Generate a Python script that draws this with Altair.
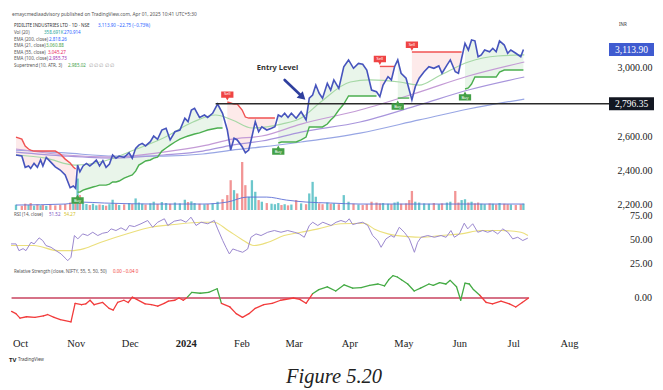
import altair as alt
import pandas as pd
import numpy as np

# ---------------- data ----------------
close_days = [-5.0,-1.7,0.2,2.1,3.3,5.2,7.1,8.9,10.2,12.1,
14.4,17.2,20.0,22.8,25.6,27.4,28.7,29.8,31.1,32.9,
34.8,36.7,38.5,40.4,42.2,44.1,45.9,47.8,49.6,51.5,
53.3,56.1,58.9,60.7,62.6,64.4,66.3,68.2,70.9,72.8,
75.0,77.4,79.8,82.1,84.8,87.6,90.4,92.2,94.1,95.9,
98.7,101.5,103.3,106.1,108.9,111.7,114.4,116.3,118.2,120.0,
122.8,124.6,126.5,128.3,130.2,132.1,133.9,136.7,139.4,141.3,
143.2,145.0,146.8,148.7,150.6,153.3,156.1,158.9,160.7,162.6,
164.4,166.3,168.2,170.9,172.8,174.6,177.4,180.2,182.9,185.7,
188.5,190.9,193.2,195.9,198.7,200.6,202.4,205.2,207.1,208.9,
210.7,212.6,215.4,217.2,218.7,220.6,222.8,225.6,228.3,231.1,
233.9,235.7,238.5,240.4,243.2,245.0,246.8,248.7,250.6,252.4,
254.3,256.1,257.9,259.8,262.6,264.4,266.3,268.2,270.9,272.8,
274.6,277.4,280.2,281.7]

close_px = [2497,2491,2425,2433,2419,2448,2425,2468,2433,2483,
2458,2428,2409,2380,2306,2316,2302,2438,2399,2433,
2448,2433,2448,2468,2433,2464,2425,2444,2497,2478,
2491,2483,2510,2478,2536,2555,2565,2550,2575,2608,
2589,2643,2653,2585,2633,2643,2712,2692,2760,2770,
2717,2731,2717,2741,2795,2741,2643,2526,2595,2585,
2545,2510,2526,2604,2692,2633,2662,2643,2653,2662,
2731,2721,2741,2717,2741,2712,2750,2702,2829,2848,
2906,2858,2829,2916,2877,2936,2887,3013,3053,3004,
3033,3028,2994,2877,2867,2838,2906,2955,2936,3013,
3053,2975,2946,2877,2819,2896,2946,2984,3013,3004,
3018,2975,3023,3053,2984,2975,3063,3150,3111,3170,
3165,3072,3082,3111,3101,3121,3101,3164,3140,3092,
3111,3092,3072,3113.9]

supertrend = ([2602,2590,2549,2532,2526,2520,2520,2520,2520,2520,2520,2520,2503,2473,2450,2427,2415]
 + [2280,2280,2292,2298,2304,2310,2315,2321,2321,2321,2327,2339,2339,2345,2362,2374,2380,2403,2438,
    2450,2462,2468,2479,2485,2520,2538,2555,2573,2590,2602,2608,2614,2620,2626,2637,2643,2649,2655,2655]
 + [2807,2801,2795,2795,2760,2719,2713,2713,2713,2713,2713,2713,2713,2713]
 + [2567,2573,2573,2573,2573,2573,2585,2602,2661,2661,2661,2661,2661,2678,2702,2719,2760,2795,
    2842,2842,2842,2842,2842,2842,2842]
 + [3015,3015,3015,3015,3015]
 + [2830,2830,2830,2830]
 + [3099,3099,3099,3099,3099,3099,3099,3099,3099,3099,3099,3099,3099]
 + [2883,2889,2912,2953,2953,2953,2953,2953,2953,2953,2982,2994,2994,2994,2994,2994,2994])

volume_k = [320,250,380,300,420,260,340,280,300,250,
330,280,310,360,450,400,520,1900,900,420,
360,300,380,280,330,300,260,350,620,380,
300,340,420,360,700,450,380,330,400,500,
360,480,420,380,450,400,620,480,520,420,
380,340,360,400,500,650,900,1800,1200,1000,
2900,1500,800,1800,1100,600,500,420,380,350,
420,300,350,280,330,600,400,350,1000,1700,
800,400,350,450,380,400,350,900,500,380,
330,300,350,500,450,400,420,380,350,450,
500,380,400,600,1150,500,450,400,380,420,
350,400,450,500,1150,450,600,650,450,500,
400,450,380,350,400,380,330,420,380,350,
330,300,350,380]

vol_ma_days = [-5.0,22.8,31.1,45.0,72.8,100.6,114.4,125.6,136.7,147.8,158.9,172.8,189.4,211.7,239.4,282.2]
vol_ma_k = [300,360,480,420,360,360,480,780,780,600,480,420,360,360,360,360]

ema_slow_days = [-5.0,22.8,50.6,78.3,100.6,117.2,133.9,156.1,189.4,222.8,250.6,282.2]
ema55 = [2532,2497,2485,2514,2550,2590,2608,2678,2760,2865,2959,3041]
ema100 = [2514,2491,2479,2497,2520,2555,2579,2631,2690,2790,2877,2953]
ema200 = [2526,2509,2491,2491,2503,2526,2544,2573,2625,2702,2766,2824]

ema21_days = [-5.0,11.7,28.3,45.0,61.7,78.3,95.0,107.8,117.2,128.3,145.0,156.1,167.2,183.9,195.0,
              211.7,222.8,233.9,250.6,267.2,282.2]
ema21 = [2497,2479,2438,2462,2526,2596,2690,2731,2702,2655,2678,2713,2807,2924,2936,
         2924,2906,2959,3041,3076,3082]

rsi_days = [-5.0,-2.2,-0.6,1.7,3.3,6.1,7.8,10.6,12.6,14.4,
17.2,20.0,22.8,25.6,26.5,28.3,30.2,32.1,34.8,37.6,
40.4,43.2,45.9,48.7,50.6,53.3,56.1,58.9,60.7,63.5,
67.2,70.9,73.7,76.5,80.2,82.1,85.7,89.4,92.2,95.0,
97.8,100.6,104.3,107.9,109.8,112.6,114.4,116.3,118.2,120.9,
123.7,126.5,128.3,131.1,133.9,137.6,141.3,145.0,148.7,152.4,
155.2,157.9,160.7,162.6,165.4,168.2,172.8,175.6,178.3,181.1,
182.9,184.8,187.6,190.4,193.2,195.9,198.7,200.6,203.3,206.1,
207.9,210.7,213.5,216.3,219.1,220.9,222.8,226.5,230.2,233.9,
236.7,239.4,241.3,244.1,246.8,248.7,251.5,254.3,257.1,259.8,
262.6,265.4,268.2,271.0,273.7,276.5,279.3,282.1]
rsi_vals = [45.5,45.5,38.5,40.6,38.5,47.2,45.5,51.8,49.0,43.8,
42.0,38.5,35.1,29.9,28.1,31.6,54.2,50.7,55.9,54.2,
57.6,54.2,56.6,57.6,61.1,59.4,62.2,59.4,64.6,63.5,
66.4,69.8,62.8,68.0,71.6,64.6,69.1,70.5,68.0,73.2,
64.6,68.0,66.4,69.8,61.1,49.0,42.0,35.1,40.3,38.5,
36.8,40.3,52.4,55.9,54.2,57.6,59.4,57.6,59.4,57.6,
55.9,52.4,64.6,68.0,64.6,68.0,64.6,68.0,69.8,68.0,
71.6,65.6,67.0,68.0,64.6,54.2,49.0,42.0,50.7,54.2,
52.4,62.8,57.6,50.7,36.8,47.2,52.4,54.2,52.4,54.2,
52.4,59.4,52.4,55.9,67.0,61.1,66.4,57.6,59.4,57.6,
59.4,55.9,61.1,57.6,50.7,52.4,49.0,51.52]

rsi_ma_days = [-5.0,7.8,21.1,28.3,35.6,45.0,60.0,72.8,85.6,100.6,107.8,115.6,122.8,130.0,137.8,
               146.7,156.1,165.6,178.3,191.1,196.7,204.4,215.6,222.8,233.9,245.0,256.1,267.2,278.3,282.2]
rsi_ma_vals = [43.8,43.8,38.5,38.5,40.6,47.2,56.3,62.8,65.6,68.0,68.0,59.4,50.7,43.8,47.2,
               54.2,57.6,61.1,66.4,67.0,61.1,55.9,53.1,52.4,54.2,55.9,59.4,59.4,57.6,54.3]

rs_days = [-4.7,-2.3,0.0,3.6,8.3,13.0,15.3,18.9,22.4,28.3,
30.6,34.2,36.5,38.9,41.2,45.9,49.5,51.8,54.2,57.7,
60.1,62.4,64.8,69.5,73.0,76.5,80.1,82.4,86.0,88.3,
90.7,93.0,95.4,100.1,104.8,109.5,111.9,116.6,120.1,123.6,
127.2,130.7,135.4,140.1,144.8,151.9,155.4,158.9,162.5,166.0,
170.7,175.4,180.1,184.8,189.5,194.2,198.9,202.5,204.8,207.2,
209.6,211.9,215.4,219.0,222.5,227.2,229.6,233.1,236.6,239.0,
242.5,244.8,247.2,249.6,251.9,255.4,259.0,262.5,267.2,271.9,
275.4,279.0,282.5]
rs_vals = [-0.48,-0.56,-0.72,-0.67,-0.69,-0.64,-0.59,-0.69,-0.77,-0.85,
-0.19,-0.24,-0.21,-0.08,-0.24,-0.16,-0.37,-0.43,-0.16,-0.08,
-0.16,0.03,-0.05,-0.21,-0.24,-0.29,-0.19,-0.11,-0.08,0.00,
-0.08,0.03,0.20,0.17,0.20,0.33,-0.19,-0.32,-0.56,-0.69,
-0.56,-0.37,-0.24,-0.19,-0.08,0.00,-0.05,-0.19,0.15,0.30,
0.40,0.25,0.47,0.35,0.37,0.45,0.50,0.43,0.65,0.80,
0.75,0.65,0.50,0.25,0.35,0.50,0.45,0.55,0.50,0.63,
0.40,-0.08,0.53,0.50,0.30,0.10,-0.16,-0.21,-0.11,-0.21,
-0.32,-0.16,0.00]

price_ticks = [2200, 2400, 2600, 3000]
rsi_ticks = [25, 50, 75]
rs_ticks = [0.0]
last_close = 3113.90
entry_level = 2796.35
entry_start_day = 107.8
arrow_days = [146.8, 156.9]
arrow_price = [2936, 2836]
entry_label_day = 142.8
entry_label_price = 3006

# ---------------- layout / style ----------------
W = 597
H_P, H_R, H_S = 202, 58, 64
AXF = "Liberation Serif"
AXS = 10
TXF = "Noto Sans"
GREEN = "#4caf50"; RED = "#f05252"
CLOSE_C = "#4654bd"
TEAL = "#6cc7cc"; PINK = "#f29595"

T0 = pd.Timestamp("2023-10-01")
def to_dates(days):
    return [T0 + pd.Timedelta(days=float(d)) for d in days]

xscale = alt.Scale(domain=[alt.DateTime(year=2023, month=9, date=24, hours=21),
                           alt.DateTime(year=2024, month=8, date=21, hours=13)])
X = alt.X("date:T", scale=xscale, axis=None, title=None)

dummy = pd.DataFrame({"k": [0]})
def label(text, x, y, color="#555", size=4.5, weight="normal", font=TXF, align="left", **kw):
    return alt.Chart(dummy).mark_text(text=text, align=align, baseline="middle", fontSize=size,
                                      fontWeight=weight, color=color, font=font, **kw).encode(
        x=alt.value(x), y=alt.value(y))

def right_axis(values, fmt, offset=0):
    return alt.Axis(orient="right", values=values, format=fmt, labelAlign="right", labelPadding=46,
                    ticks=False, tickSize=0, domain=False, grid=False, labelFont=AXF, labelFontSize=AXS,
                    labelColor="#222", labelBaseline="middle", labelOverlap=False, labelBound=False,
                    labelOffset=offset)

# ---------------- price panel ----------------
pdf = pd.DataFrame({"date": to_dates(close_days), "close": close_px, "st": supertrend, "vol": volume_k})
pdf["trend"] = np.where(pdf["close"] >= pdf["st"], 1, -1)
pdf["seg"] = (pdf["trend"] != pdf["trend"].shift()).cumsum()
pdf["st_col"] = np.where(pdf["trend"] == 1, GREEN, RED)
pdf["vol_col"] = np.where(pdf["close"].diff().fillna(1) >= 0, TEAL, PINK)
flip = (pdf["trend"] != pdf["trend"].shift()) & (pdf.index > 0)
buys = pdf[flip & (pdf["trend"] == 1)]
sells = pdf[flip & (pdf["trend"] == -1)]

p_scale = alt.Scale(domain=[2175.4, 3356.7], nice=False, zero=False)
p_axis = right_axis(price_ticks, ",.2f", offset=-1)
def PY(f):
    return alt.Y(f, scale=p_scale, axis=p_axis, title=None)

base = alt.Chart(pdf)
fill = base.mark_area(opacity=0.12).encode(x=X, y=PY("close:Q"), y2="st:Q",
                                            color=alt.Color("st_col:N", scale=None), detail="seg:N")

ema_df = pd.concat([
    pd.DataFrame({"date": to_dates(ema_slow_days), "v": ema200, "name": "e200", "col": "#98a6e4"}),
    pd.DataFrame({"date": to_dates(ema_slow_days), "v": ema100, "name": "e100", "col": "#a895dc"}),
    pd.DataFrame({"date": to_dates(ema_slow_days), "v": ema55, "name": "e55", "col": "#c49bd6"}),
    pd.DataFrame({"date": to_dates(ema21_days), "v": ema21, "name": "e21", "col": "#a6d8a6"}),
])
emas = alt.Chart(ema_df).mark_line(strokeWidth=1.2, interpolate="monotone").encode(
    x=X, y=PY("v:Q"), detail="name:N", color=alt.Color("col:N", scale=None))

st_line = base.mark_line(strokeWidth=1.4).encode(x=X, y=PY("st:Q"), detail="seg:N",
                                                 color=alt.Color("st_col:N", scale=None))
close_line = base.mark_line(strokeWidth=1.6, color=CLOSE_C).encode(x=X, y=PY("close:Q"))

entry_df = pd.DataFrame({"date": to_dates([entry_start_day]), "lvl": [entry_level]})
entry_rule = alt.Chart(entry_df).mark_rule(color="#2a2a2a", strokeWidth=1.6).encode(
    x=X, x2=alt.value(W + 3), y=PY("lvl:Q"))

BUY_PATH = "M-1,-0.3L-0.25,-0.3L0,-0.75L0.25,-0.3L1,-0.3L1,0.75L-1,0.75Z"
SELL_PATH = "M-1,-0.75L1,-0.75L1,0.3L0.25,0.3L0,0.75L-0.25,0.3L-1,0.3Z"
buy_box = alt.Chart(buys).mark_point(shape=BUY_PATH, filled=True, size=150, opacity=1, color="#43a047",
                                     yOffset=7).encode(x=X, y=PY("st:Q"))
buy_txt = alt.Chart(buys).mark_text(text="Buy", fontSize=4, color="white", font=TXF, yOffset=8.5).encode(
    x=X, y=PY("st:Q"))
sell_box = alt.Chart(sells).mark_point(shape=SELL_PATH, filled=True, size=150, opacity=1, color="#ef4444",
                                       yOffset=-6).encode(x=X, y=PY("st:Q"))
sell_txt = alt.Chart(sells).mark_text(text="Sell", fontSize=4, color="white", font=TXF, yOffset=-7.5).encode(
    x=X, y=PY("st:Q"))

arrow_df = pd.DataFrame({"date": to_dates(arrow_days), "p": arrow_price})
ARROW_C = "#2f3f9e"
arrow_shaft = alt.Chart(arrow_df).mark_line(strokeWidth=2.6, color=ARROW_C, strokeCap="round").encode(
    x=X, y=PY("p:Q"))
arrow_head = alt.Chart(arrow_df.tail(1)).mark_point(shape="triangle-up", filled=True, size=80, angle=133,
                                                    opacity=1, color=ARROW_C).encode(x=X, y=PY("p:Q"))
elab_df = pd.DataFrame({"date": to_dates([entry_label_day]), "p": [entry_label_price]})
entry_txt = alt.Chart(elab_df).mark_text(text="Entry Level", fontSize=7.5, fontWeight="bold", color="#333",
                                         font=TXF).encode(x=X, y=PY("p:Q"))

box_df = pd.DataFrame({"lvl": [last_close, entry_level], "txt": ["3,113.90", "2,796.35"],
                       "col": ["#3f5bd0", "#131722"]})
boxes = alt.Chart(box_df).mark_rect(yOffset=-6.5, y2Offset=6.5).encode(
    x=alt.value(W + 3), x2=alt.value(W + 48), y=PY("lvl:Q"), y2="lvl:Q", color=alt.Color("col:N", scale=None))
box_txt = alt.Chart(box_df).mark_text(color="white", fontSize=9.5, font=AXF).encode(
    x=alt.value(W + 25.5), y=PY("lvl:Q"), text="txt:N")

BLUE_T = "#2962ff"
header = [
    label("emaycmediaadvisory published on TradingView.com, Apr 01, 2025 10:41 UTC+5:30", 3, 7, "#555", 4.8),
    label("PIDILITE INDUSTRIES LTD · 1D · NSE", 5, 17.5, "#333"),
    label("3,113.90  −22.75 (−0.73%)", 89, 17.5, BLUE_T),
    label("Vol (20)", 5, 25, "#555"), label("358.691K", 35, 25, "#26a69a"), label("270.914", 55, 25, BLUE_T),
    label("EMA (200, close)", 5, 31.5), label("2,818.26", 40, 31.5, BLUE_T),
    label("EMA (21, close)", 5, 38), label("3,060.88", 37, 38, "#43a047"),
    label("EMA (55, close)", 5, 44.5), label("3,045.27", 39, 44.5, "#e91e63"),
    label("EMA (100, close)", 5, 51), label("2,955.73", 40, 51, "#9c27b0"),
    label("Supertrend (10, ATR, 3)", 5, 57.5), label("2,985.02", 59, 57.5, "#43a047"),
    label("∅  ∅  ∅  ∅  ∅", 80, 57.5, "#999"),
    label("INR", W + 13, 17, "#333", 4.5),
]

vscale = alt.Scale(domain=[0, 12200], nice=False)
vol_bars = base.mark_bar(width=2.3).encode(x=X, y=alt.Y("vol:Q", scale=vscale, axis=None),
                                           color=alt.Color("vol_col:N", scale=None))
vma_df = pd.DataFrame({"date": to_dates(vol_ma_days), "v": vol_ma_k})
vol_ma = alt.Chart(vma_df).mark_line(color="#5d6fd6", strokeWidth=0.9, interpolate="monotone").encode(
    x=X, y=alt.Y("v:Q", scale=vscale, axis=None))

vol_layer = alt.layer(vol_bars, vol_ma)
price_layer = alt.layer(fill, emas, st_line, close_line, entry_rule, buy_box, buy_txt, sell_box, sell_txt,
                        arrow_shaft, arrow_head, entry_txt, boxes, box_txt, *header)
price_panel = alt.layer(vol_layer, price_layer).resolve_scale(y="independent").properties(width=W, height=H_P)

# ---------------- RSI panel ----------------
r_scale = alt.Scale(domain=[20.5, 80.7], nice=False, zero=False)
r_axis = right_axis(rsi_ticks, ".2f")
rdf = pd.DataFrame({"date": to_dates(rsi_days), "v": rsi_vals})
rmadf = pd.DataFrame({"date": to_dates(rsi_ma_days), "v": rsi_ma_vals})
rsi_ma_line = alt.Chart(rmadf).mark_line(color="#ebdf7c", strokeWidth=1.1, interpolate="monotone").encode(
    x=X, y=alt.Y("v:Q", scale=r_scale, axis=r_axis, title=None))
rsi_line = alt.Chart(rdf).mark_line(color="#9b88cf", strokeWidth=1.0).encode(
    x=X, y=alt.Y("v:Q", scale=r_scale, axis=r_axis, title=None))
rsi_panel = alt.layer(
    rsi_ma_line, rsi_line,
    label("RSI (14, close)", 5, 5, "#555"), label("51.52", 40, 5, "#7e57c2"), label("54.27", 55, 5, "#d4c22a"),
).properties(width=W, height=H_R)

# ---------------- Relative strength panel ----------------
K = 28.0
s_scale = alt.Scale(domain=[-34 / K, 30 / K], nice=False, zero=False)
month_ticks = ([alt.DateTime(year=2023, month=m, date=1) for m in (10, 11, 12)] +
               [alt.DateTime(year=2024, month=m, date=1) for m in range(1, 9)])
x_axis = alt.Axis(values=month_ticks,
                  labelExpr="month(datum.value) == 0 ? timeFormat(datum.value, '%Y') : timeFormat(datum.value, '%b')",
                  labelFontWeight={"condition": {"test": "month(datum.value) == 0", "value": "bold"}, "value": "normal"},
                  ticks=False, domain=False, grid=False, labelPadding=6, labelFont=AXF, labelFontSize=10.5,
                  labelColor="#222", labelBaseline="top", labelOverlap=False, labelFlush=False, labelBound=False)
XB = alt.X("date:T", scale=xscale, axis=x_axis, title=None)
rs_dates = to_dates(rs_days)
sdf = pd.DataFrame({"date": rs_dates[:-1], "date2": rs_dates[1:], "v": rs_vals[:-1], "v2": rs_vals[1:]})
sdf["col"] = np.where((sdf["v"] + sdf["v2"]) / 2 >= 0, "#45ab45", "#f23b3b")
zdf = pd.DataFrame({"date": [rs_dates[0]], "date2": [rs_dates[-1]], "z": [0.0]})
zero_rule = alt.Chart(zdf).mark_rule(color="#c9435f", strokeWidth=1.5).encode(
    x=XB, x2="date2:T", y=alt.Y("z:Q", scale=s_scale, axis=None))
rs_segs = alt.Chart(sdf).mark_rule(strokeWidth=1.3, strokeCap="round").encode(
    x=XB, x2="date2:T", y=alt.Y("v:Q", scale=s_scale, axis=None), y2="v2:Q",
    color=alt.Color("col:N", scale=None))
# value label of this pane's right-hand scale, placed through the pane's own y scale
tick_df = pd.DataFrame({"t": rs_ticks})
rs_tick_lbl = alt.Chart(tick_df).mark_text(align="right", baseline="middle", font=AXF, fontSize=AXS,
                                           color="#222").encode(
    x=alt.value(W + 46), y=alt.Y("t:Q", scale=s_scale, axis=None), text=alt.Text("t:Q", format=".2f"))
rs_panel = alt.layer(
    zero_rule, rs_segs, rs_tick_lbl,
    label("Relative Strength (close, NIFTY, 55, 5, 50, 50)", 5, 4, "#555"),
    label("0.00  −0.04  0", 104, 4, "#f23b3b"),
    label("TV", 0, 92, "#222", 6, "bold"),
    label("TradingView", 9, 92, "#444", 4.5),
    label("Figure 5.20", 325, 109, "#222", 20.5, "normal", "Liberation Serif", "center", fontStyle="italic"),
).properties(width=W, height=H_S)

chart = alt.vconcat(price_panel, rsi_panel, rs_panel, spacing=0, bounds="flush", padding=0).properties(
    background="white").configure_view(stroke=None)

chart.save("out.html", embed_options={"renderer": "svg", "actions": False})
